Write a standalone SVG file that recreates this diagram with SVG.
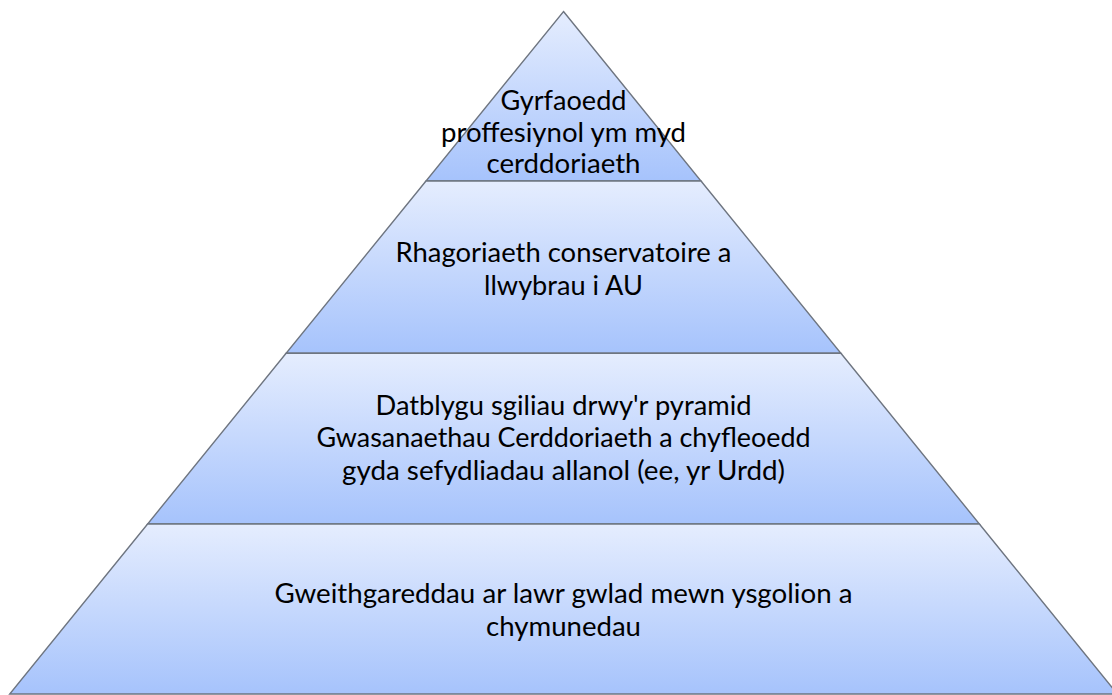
<svg xmlns="http://www.w3.org/2000/svg" width="1112" height="695" viewBox="0 0 1112 695">
<defs>
<linearGradient id="tierFill" x1="0" y1="0" x2="0" y2="1">
<stop offset="0" stop-color="#E5EDFE"/>
<stop offset="1" stop-color="#A6C3FC"/>
</linearGradient>
<style>
.tier{fill:url(#tierFill);stroke:#6E7580;stroke-width:1.4;stroke-linejoin:miter}
.lbl{font-family:Lato,"Liberation Sans",sans-serif;font-size:27px;fill:#000;text-anchor:middle}
</style>
</defs>
<rect width="1112" height="695" fill="#FFFFFF"/>
<g id="tier1">
<polygon class="tier" points="563.5,11.5 701,181 426,181"/>
<text class="lbl" x="563.5" y="110" textLength="126" lengthAdjust="spacingAndGlyphs">Gyrfaoedd</text>
<text class="lbl" x="563.5" y="141.5" textLength="245" lengthAdjust="spacingAndGlyphs">proffesiynol ym myd</text>
<text class="lbl" x="563.5" y="173" textLength="154" lengthAdjust="spacingAndGlyphs">cerddoriaeth</text>
</g>
<g id="tier2">
<polygon class="tier" points="426,181 701,181 840.9,353.3 286.1,353.3"/>
<text class="lbl" x="563.5" y="262" textLength="336" lengthAdjust="spacingAndGlyphs">Rhagoriaeth conservatoire a</text>
<text class="lbl" x="563.5" y="294.5" textLength="159" lengthAdjust="spacingAndGlyphs">llwybrau i AU</text>
</g>
<g id="tier3">
<polygon class="tier" points="286.1,353.3 840.9,353.3 979.4,524 147.6,524"/>
<text class="lbl" x="563.5" y="414.5" textLength="376" lengthAdjust="spacingAndGlyphs">Datblygu sgiliau drwy'r pyramid</text>
<text class="lbl" x="563.5" y="447" textLength="494" lengthAdjust="spacingAndGlyphs">Gwasanaethau Cerddoriaeth a chyfleoedd</text>
<text class="lbl" x="563.5" y="479.5" textLength="443" lengthAdjust="spacingAndGlyphs">gyda sefydliadau allanol (ee, yr Urdd)</text>
</g>
<g id="tier4">
<polygon class="tier" points="147.6,524 979.4,524 1117.3,694 9.7,694"/>
<text class="lbl" x="563.5" y="603" textLength="578" lengthAdjust="spacingAndGlyphs">Gweithgareddau ar lawr gwlad mewn ysgolion a</text>
<text class="lbl" x="563.5" y="635.5" textLength="155" lengthAdjust="spacingAndGlyphs">chymunedau</text>
</g>
<g id="connectors"></g>
</svg>
